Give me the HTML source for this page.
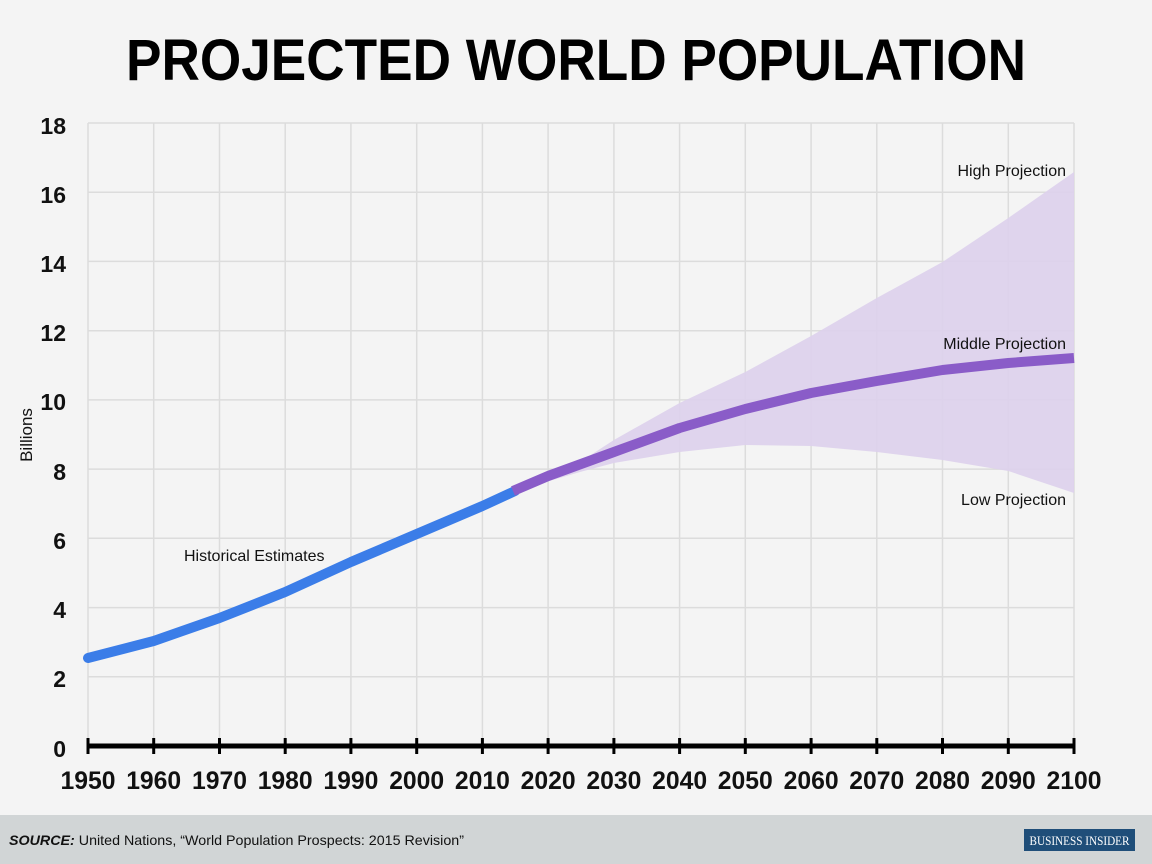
<!DOCTYPE html>
<html><head><meta charset="utf-8"><style>
body{margin:0;background:#f4f4f4;}
svg{display:block;font-family:"Liberation Sans",sans-serif;}
</style></head><body>
<svg width="1152" height="864" xmlns="http://www.w3.org/2000/svg">
<rect width="1152" height="864" fill="#f4f4f4"/>
<text x="576" y="80" text-anchor="middle" font-size="58" font-weight="bold" fill="#000" textLength="900" lengthAdjust="spacingAndGlyphs">PROJECTED WORLD POPULATION</text>
<g stroke="#dcdcdc" stroke-width="1.5">
<line x1="88" y1="123" x2="1074" y2="123"/><line x1="88" y1="192.2" x2="1074" y2="192.2"/><line x1="88" y1="261.4" x2="1074" y2="261.4"/><line x1="88" y1="330.7" x2="1074" y2="330.7"/><line x1="88" y1="399.9" x2="1074" y2="399.9"/><line x1="88" y1="469.1" x2="1074" y2="469.1"/><line x1="88" y1="538.3" x2="1074" y2="538.3"/><line x1="88" y1="607.6" x2="1074" y2="607.6"/><line x1="88" y1="676.8" x2="1074" y2="676.8"/>
<line x1="88" y1="123" x2="88" y2="746"/><line x1="153.7" y1="123" x2="153.7" y2="746"/><line x1="219.5" y1="123" x2="219.5" y2="746"/><line x1="285.2" y1="123" x2="285.2" y2="746"/><line x1="350.9" y1="123" x2="350.9" y2="746"/><line x1="416.7" y1="123" x2="416.7" y2="746"/><line x1="482.4" y1="123" x2="482.4" y2="746"/><line x1="548.1" y1="123" x2="548.1" y2="746"/><line x1="613.9" y1="123" x2="613.9" y2="746"/><line x1="679.6" y1="123" x2="679.6" y2="746"/><line x1="745.3" y1="123" x2="745.3" y2="746"/><line x1="811.1" y1="123" x2="811.1" y2="746"/><line x1="876.8" y1="123" x2="876.8" y2="746"/><line x1="942.5" y1="123" x2="942.5" y2="746"/><line x1="1008.3" y1="123" x2="1008.3" y2="746"/><line x1="1074" y1="123" x2="1074" y2="746"/>
</g>
<path d="M515,491 L580,462 L613.9,440 L679.6,403 L745.3,372 L811.1,336 L876.8,298 L942.5,262 L1008.3,218 L1074,172 L1074,493 L1008.3,471 L942.5,460 L876.8,452 L811.1,446 L745.3,445 L679.6,452 L613.9,463 L580,472 Z" fill="#ddd0ec" opacity="0.9"/>
<polyline fill="none" stroke="#3b7de8" stroke-width="10" stroke-linecap="round" stroke-linejoin="round" points="88,658 153.7,641 219.5,618 285.2,592 350.9,562 416.7,534 482.4,506 515,491"/>
<polyline fill="none" stroke="#8a5cc8" stroke-width="10" stroke-linejoin="round" points="513,491 548.1,476 613.9,452 679.6,428 745.3,409 811.1,393 876.8,381 942.5,370 1008.3,363 1074,358"/>
<g font-size="16" fill="#111">
<text x="184" y="561">Historical Estimates</text>
<text x="1066" y="176" text-anchor="end">High Projection</text>
<text x="1066" y="349" text-anchor="end">Middle Projection</text>
<text x="1066" y="505" text-anchor="end">Low Projection</text>
</g>
<text transform="translate(32,435) rotate(-90)" text-anchor="middle" font-size="17" fill="#111">Billions</text>
<g font-size="23" font-weight="bold" fill="#111" text-anchor="end">
<text x="66" y="134">18</text><text x="66" y="203">16</text><text x="66" y="272">14</text><text x="66" y="341">12</text><text x="66" y="410">10</text><text x="66" y="480">8</text><text x="66" y="549">6</text><text x="66" y="618">4</text><text x="66" y="687">2</text><text x="66" y="757">0</text>
</g>
<line x1="88" y1="746" x2="1074" y2="746" stroke="#000" stroke-width="5"/>
<g stroke="#000" stroke-width="3">
<line x1="88" y1="738" x2="88" y2="754"/><line x1="153.7" y1="738" x2="153.7" y2="754"/><line x1="219.5" y1="738" x2="219.5" y2="754"/><line x1="285.2" y1="738" x2="285.2" y2="754"/><line x1="350.9" y1="738" x2="350.9" y2="754"/><line x1="416.7" y1="738" x2="416.7" y2="754"/><line x1="482.4" y1="738" x2="482.4" y2="754"/><line x1="548.1" y1="738" x2="548.1" y2="754"/><line x1="613.9" y1="738" x2="613.9" y2="754"/><line x1="679.6" y1="738" x2="679.6" y2="754"/><line x1="745.3" y1="738" x2="745.3" y2="754"/><line x1="811.1" y1="738" x2="811.1" y2="754"/><line x1="876.8" y1="738" x2="876.8" y2="754"/><line x1="942.5" y1="738" x2="942.5" y2="754"/><line x1="1008.3" y1="738" x2="1008.3" y2="754"/><line x1="1074" y1="738" x2="1074" y2="754"/>
</g>
<g font-size="25" font-weight="bold" fill="#111" text-anchor="middle" lengthAdjust="spacingAndGlyphs">
<text x="88" y="789" textLength="55" lengthAdjust="spacingAndGlyphs">1950</text><text x="153.7" y="789" textLength="55" lengthAdjust="spacingAndGlyphs">1960</text><text x="219.5" y="789" textLength="55" lengthAdjust="spacingAndGlyphs">1970</text><text x="285.2" y="789" textLength="55" lengthAdjust="spacingAndGlyphs">1980</text><text x="350.9" y="789" textLength="55" lengthAdjust="spacingAndGlyphs">1990</text><text x="416.7" y="789" textLength="55" lengthAdjust="spacingAndGlyphs">2000</text><text x="482.4" y="789" textLength="55" lengthAdjust="spacingAndGlyphs">2010</text><text x="548.1" y="789" textLength="55" lengthAdjust="spacingAndGlyphs">2020</text><text x="613.9" y="789" textLength="55" lengthAdjust="spacingAndGlyphs">2030</text><text x="679.6" y="789" textLength="55" lengthAdjust="spacingAndGlyphs">2040</text><text x="745.3" y="789" textLength="55" lengthAdjust="spacingAndGlyphs">2050</text><text x="811.1" y="789" textLength="55" lengthAdjust="spacingAndGlyphs">2060</text><text x="876.8" y="789" textLength="55" lengthAdjust="spacingAndGlyphs">2070</text><text x="942.5" y="789" textLength="55" lengthAdjust="spacingAndGlyphs">2080</text><text x="1008.3" y="789" textLength="55" lengthAdjust="spacingAndGlyphs">2090</text><text x="1074" y="789" textLength="55" lengthAdjust="spacingAndGlyphs">2100</text>
</g>
<rect x="0" y="815" width="1152" height="49" fill="#d1d5d6"/>
<text x="9" y="845" font-size="14" fill="#111" textLength="455" lengthAdjust="spacingAndGlyphs"><tspan font-weight="bold" font-style="italic">SOURCE:</tspan> United Nations, “World Population Prospects: 2015 Revision”</text>
<rect x="1024" y="829" width="111" height="22" fill="#1f4e79"/>
<text x="1079.5" y="845" text-anchor="middle" font-family="Liberation Serif,serif" font-size="13" fill="#fff" textLength="100" lengthAdjust="spacingAndGlyphs">BUSINESS INSIDER</text>
</svg>
</body></html>
